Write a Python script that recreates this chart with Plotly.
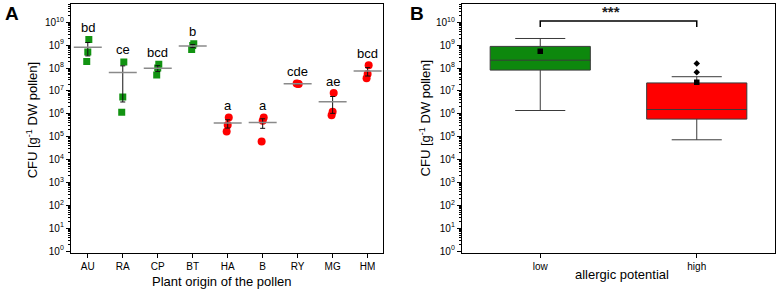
import numpy as np
import plotly.graph_objects as go

# ---------------- data ----------------
CATEGORIES = ["AU", "RA", "CP", "BT", "HA", "B", "RY", "MG", "HM"]
ALLERGY = ["low", "low", "low", "low", "high", "high", "high", "high", "high"]
LETTERS = ["bd", "ce", "bcd", "b", "a", "a", "cde", "ae", "bcd"]

AU = [1.76e9, 5.0e8, 1.92e8]
RA = [1.85e8, 5.4e6, 1.17e6]
CP = [1.47e8, 9.9e7, 4.9e7]
BT = [1.15e9, 9.7e8, 6.5e8]
HA = [6.9e5, 3.2e5, 1.67e5]
B_ = [6.9e5, 5.0e5, 6.2e4]
RY = [2.0e7, 2.05e7, 2.1e7]
MG = [8.0e6, 1.22e6, 8.7e5]
HM = [1.33e8, 5.5e7, 3.55e7]

BOX_GROUPS = ["low", "high"]
BOX_Q1 = [8.1e7, 5.85e5]
BOX_MEDIAN = [2.2e8, 1.53e6]
BOX_Q3 = [8.8e8, 2.23e7]
BOX_LOWER = [1.39e6, 7.3e4]
BOX_UPPER = [1.95e9, 4.17e7]
BOX_MEAN = [5.35e8, 2.4e7]
HIGH_OUTLIERS = [1.58e8, 6.46e7]
SIGNIF = "***"

# ---------------- styling ----------------
W, H = 779, 297
FONT = "Arial, Liberation Sans, sans-serif"
GREEN = "#129312"
GREEN_BOX = "#0d880d"
RED = "#ff0000"
JITTER = [0.03, 0.0, -0.03]

VALUES = [AU, RA, CP, BT, HA, B_, RY, MG, HM]

def pxx(p):
    return p / W

def pxy(p):
    return 1 - p / H

YR = [-0.065, 10.8]
majors = [10 ** k for k in range(0, 11)]
majtext = ["10<sup>%d</sup>" % k for k in range(0, 11)]
minors = [m * 10 ** k for k in range(0, 11) for m in range(2, 10)]

fig = go.Figure()

# ---------- panel A ----------
for i, (cat, vals, grp) in enumerate(zip(CATEGORIES, VALUES, ALLERGY)):
    low = grp == "low"
    fig.add_trace(go.Scatter(
        x=[i + JITTER[k % 3] for k in range(len(vals))], y=vals, mode="markers",
        marker=dict(symbol="square" if low else "circle", size=7 if low else 8,
                    color=GREEN if low else RED, line=dict(width=0)),
        xaxis="x", yaxis="y", showlegend=False, hoverinfo="y"))

means = [float(np.mean(v)) for v in VALUES]
ses = [float(np.std(v, ddof=1) / np.sqrt(len(v))) for v in VALUES]
fig.add_trace(go.Scatter(
    x=list(range(len(CATEGORIES))), y=means, mode="markers",
    marker=dict(size=1, color="rgba(0,0,0,0)"),
    error_x=dict(type="data", array=[0.4] * len(means), color="#8a8a8a",
                 thickness=1.5, width=0),
    error_y=dict(type="data", array=ses, color="#111111", thickness=1, width=2.5),
    xaxis="x", yaxis="y", showlegend=False))

annotations = []
for i, (vals, m, s, lab) in enumerate(zip(VALUES, means, ses, LETTERS)):
    top = max(max(vals), m + s)
    annotations.append(dict(x=i, y=np.log10(top), xref="x", yref="y", text=lab,
                            showarrow=False, yshift=12, xanchor="center", yanchor="middle",
                            font=dict(size=13, color="black", family=FONT)))

# ---------- panel B ----------
for g, q1, med, q3, lo, up, col in zip(BOX_GROUPS, BOX_Q1, BOX_MEDIAN, BOX_Q3,
                                       BOX_LOWER, BOX_UPPER, [GREEN_BOX, RED]):
    fig.add_trace(go.Box(
        x=[g], q1=[q1], median=[med], q3=[q3], lowerfence=[lo], upperfence=[up],
        fillcolor=col, line=dict(color="#3a3a3a", width=1), width=0.64,
        whiskerwidth=0.5, boxpoints=False, xaxis="x2", yaxis="y2",
        showlegend=False))

fig.add_trace(go.Scatter(
    x=BOX_GROUPS, y=BOX_MEAN, mode="markers",
    marker=dict(symbol="square", size=5.5, color="black"),
    xaxis="x2", yaxis="y2", showlegend=False))
fig.add_trace(go.Scatter(
    x=["high"] * len(HIGH_OUTLIERS), y=HIGH_OUTLIERS, mode="markers",
    marker=dict(symbol="diamond", size=5, color="black"),
    xaxis="x2", yaxis="y2", showlegend=False))

ref = max(BOX_UPPER)
b_end = ref * 10 ** 0.5
b_top = ref * 10 ** 0.77
fig.add_trace(go.Scatter(
    x=[BOX_GROUPS[0], BOX_GROUPS[0], BOX_GROUPS[1], BOX_GROUPS[1]],
    y=[b_end, b_top, b_top, b_end], mode="lines",
    line=dict(color="black", width=1.5), xaxis="x2", yaxis="y2",
    showlegend=False, hoverinfo="skip"))
annotations.append(dict(x=0.45, y=np.log10(b_top), xref="x2", yref="y2",
                        text="<b>%s</b>" % SIGNIF, showarrow=False,
                        xanchor="center", yanchor="middle", yshift=9,
                        font=dict(size=15, color="#222222", family=FONT)))

# ---------- titles ----------
ytitle = "CFU [g<sup>-1</sup> DW pollen]"

def pann(x, y, text, size=13, angle=0):
    return dict(x=pxx(x), y=pxy(y), xref="paper", yref="paper", text=text,
                textangle=angle, showarrow=False, xanchor="center", yanchor="middle",
                font=dict(size=size, color="black", family=FONT))

annotations += [
    pann(12, 14, "<b>A</b>", 19),
    pann(417, 14, "<b>B</b>", 19),
    pann(221, 285, "Plant origin of the pollen"),
    pann(622, 278, "allergic potential"),
    pann(32, 122, ytitle, 13, -90),
    pann(425, 120, ytitle, 13, -90),
]

ydom = [pxy(256), pxy(4)]
xdomA = [pxx(71), pxx(383)]
xdomB = [pxx(462), pxx(775)]

def yax(anchor, **kw):
    d = dict(type="log", range=YR, domain=ydom, anchor=anchor,
             tickmode="array", tickvals=majors, ticktext=majtext,
             ticks="outside", ticklen=4, tickwidth=1, tickcolor="black",
             minor=dict(tickmode="array", tickvals=minors, ticks="outside",
                        ticklen=2, tickwidth=0.8, tickcolor="black"),
             showline=True, linecolor="black", linewidth=1.3, mirror=True,
             showgrid=False, zeroline=False,
             tickfont=dict(size=10, color="black", family=FONT))
    d.update(kw)
    return d

def yax_mirror(over, anchor):
    return dict(type="log", range=YR, domain=ydom, overlaying=over, side="right",
                anchor=anchor, tickmode="array", tickvals=majors,
                ticks="inside", ticklen=4, tickwidth=1, tickcolor="black",
                minor=dict(tickmode="array", tickvals=minors, ticks="inside",
                           ticklen=2, tickwidth=0.8, tickcolor="black"),
                showticklabels=False, showgrid=False, zeroline=False, showline=False)

fig.update_layout(
    width=W, height=H, margin=dict(l=0, r=0, t=0, b=0),
    paper_bgcolor="white", plot_bgcolor="white",
    font=dict(family=FONT, color="black"),
    showlegend=False, boxmode="overlay",
    xaxis=dict(domain=xdomA, anchor="y", type="linear", range=[-0.48, 8.44],
               tickmode="array", tickvals=list(range(len(CATEGORIES))),
               ticktext=CATEGORIES, ticks="outside", ticklen=4, tickcolor="black",
               showline=True, linecolor="black", linewidth=1.3, mirror=True,
               showgrid=False, zeroline=False,
               tickfont=dict(size=10, color="black", family=FONT)),
    yaxis=yax("x"),
    xaxis3=dict(overlaying="x", side="top", anchor="y", type="linear",
                range=[-0.48, 8.44], tickmode="array",
                tickvals=list(range(len(CATEGORIES))), ticks="inside", ticklen=4,
                tickcolor="black", showticklabels=False, showgrid=False,
                zeroline=False, showline=False),
    yaxis3=yax_mirror("y", "x"),
    xaxis2=dict(domain=xdomB, anchor="y2", type="category",
                categoryorder="array", categoryarray=BOX_GROUPS,
                range=[-0.5, 1.5], ticks="outside", ticklen=4, tickcolor="black",
                showline=True, linecolor="black", linewidth=1.3, mirror=True,
                showgrid=False, zeroline=False,
                tickfont=dict(size=10, color="black", family=FONT)),
    yaxis2=yax("x2"),
    xaxis4=dict(overlaying="x2", side="top", anchor="y2", type="linear",
                range=[-0.5, 1.5], tickmode="array", tickvals=[0, 1],
                ticks="inside", ticklen=4, tickcolor="black",
                showticklabels=False, showgrid=False, zeroline=False,
                showline=False),
    yaxis4=yax_mirror("y2", "x2"),
    annotations=annotations,
)

fig.write_html("out.html", config={"displayModeBar": False},
               post_script="document.body.style.margin='0px';document.body.style.overflow='hidden';")
